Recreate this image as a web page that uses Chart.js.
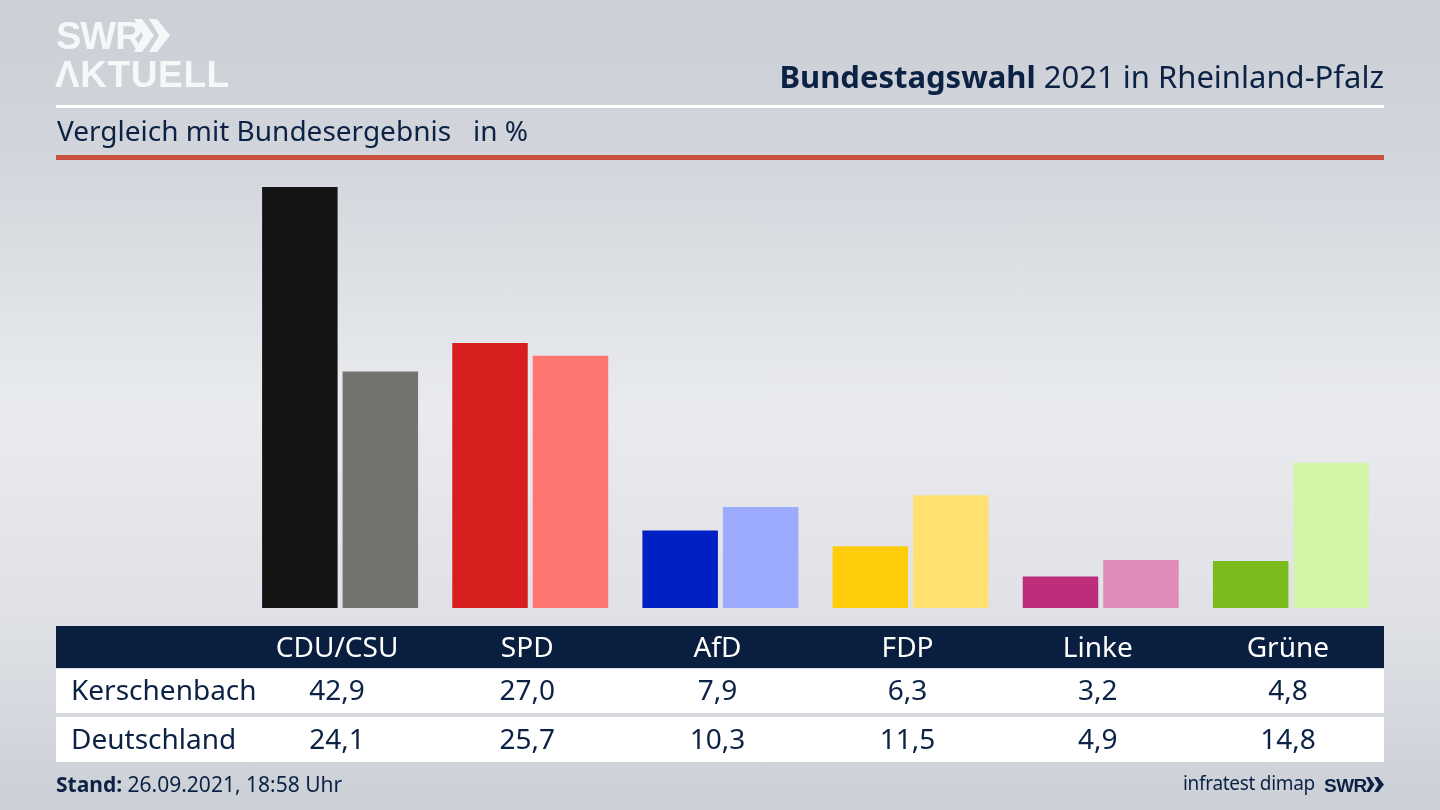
<!DOCTYPE html>
<html lang="de"><head><meta charset="utf-8">
<script src="https://cdn.jsdelivr.net/npm/chart.js@4"></script>
<style>
html,body{margin:0;padding:0;width:1440px;height:810px;overflow:hidden}
body{position:relative;font-family:"Noto Sans",sans-serif;color:#0c2244;
background:linear-gradient(180deg,#cbcfd6 0,#d2d5db 150px,#e9ebef 410px,#dfe1e6 620px,#cbcfd6 810px)}
canvas{position:absolute;left:0;top:0}
.t{position:absolute;white-space:nowrap;line-height:1}
.r{position:absolute;left:56px;width:1328px}
.c{transform:translateX(-50%)}
</style></head><body>
<canvas id="c" width="1440" height="810"></canvas>
<div class="r" style="top:105px;height:3px;background:#fff"></div>
<div class="r" style="top:155px;height:5px;background:#c8503c"></div>
<div class="r" style="top:626px;height:42px;background:#0a1f3f"></div>
<div class="r" style="top:669px;height:44px;background:#fff"></div>
<div class="r" style="top:717px;height:45px;background:#fff"></div>
<div class="t" style="left:56px;top:15px;font:bold 38px 'Liberation Sans';color:#f6f7f8;letter-spacing:-1px">SWR</div>
<svg style="position:absolute;left:134px;top:19px" width="38" height="33" viewBox="0 0 38 33"><path d="M0 0h8l12 16.500-12 16.500h-8l9-16.500zM15 0h8l13 16.500-13 16.500h-8l10-16.500z" fill="#f6f7f8"/></svg>
<div class="t" style="left:55px;top:54px;font:bold 37px 'Liberation Sans';color:#f6f7f8;letter-spacing:.6px">ΛKTUELL</div>
<div class="t" style="right:56px;top:61px;font-size:31px"><b>Bundestagswahl</b> 2021 in Rheinland-Pfalz</div>
<div class="t" style="left:57px;top:116px;font-size:28px">Vergleich mit Bundesergebnis &nbsp; in %</div>
<div class="t" style="left:56px;top:774px;font-size:21px"><b>Stand:</b> 26.09.2021, 18:58 Uhr</div>
<div class="t" style="left:1183px;top:774px;font-size:19px;letter-spacing:-.3px">infratest dimap</div>
<div class="t" style="left:1324px;top:775px;font:bold 19px 'Liberation Sans';letter-spacing:-.5px">SWR</div>
<svg style="position:absolute;left:1366px;top:777px" width="18" height="15" viewBox="0 0 18 15"><path d="M0 0h3.500l5 7.500-5 7.500h-3.500l4-7.500zM8 0h4l6 7.500-6 7.500h-4l4.500-7.500z" fill="#0c2244"/></svg>
<script>
const categories=["CDU/CSU","SPD","AfD","FDP","Linke","Grüne"];
const rowNames=["Kerschenbach","Deutschland"];
const kerschenbach=[42.9,27.0,7.9,6.3,3.2,4.8];
const deutschland=[24.1,25.7,10.3,11.5,4.9,14.8];
const colorsA=["#141414","#d71f1f","#0020c4","#ffcc0a","#bc2e7a","#79bc1c"];
const colorsB=["#747370","#ff7570","#9dabff","#ffe070","#e08bb8","#d2f5a8"];
const ds=(label,data,backgroundColor)=>({label,data,backgroundColor,categoryPercentage:.8465,barPercentage:.938});
const chart=new Chart(document.getElementById('c'),{type:'bar',
 data:{labels:categories,datasets:[ds(rowNames[0],kerschenbach,colorsA),ds(rowNames[1],deutschland,colorsB)]},
 options:{responsive:false,animation:false,devicePixelRatio:1,
  layout:{padding:{left:245,right:54,top:187,bottom:202}},
  plugins:{legend:{display:false},tooltip:{enabled:false}},
  scales:{x:{display:false},y:{display:false,min:0,max:42.9}}}});
const fmt=v=>v.toFixed(1).replace('.',',');
const add=(txt,x,y,col)=>{const d=document.createElement('div');d.className='t c';d.textContent=txt;
 d.style.cssText=`left:${x}px;top:${y}px;font-size:28px;color:${col}`;document.body.appendChild(d);};
categories.forEach((c,i)=>{const x=chart.scales.x.getPixelForValue(i)-3;
 add(c,x,632,'#fff');add(fmt(kerschenbach[i]),x,675,'#0c2244');add(fmt(deutschland[i]),x,724,'#0c2244');});
rowNames.forEach((n,i)=>{const d=document.createElement('div');d.className='t';d.textContent=n;
 d.style.cssText=`left:71px;top:${[675,724][i]}px;font-size:28px`;document.body.appendChild(d);});
</script>
</body></html>
